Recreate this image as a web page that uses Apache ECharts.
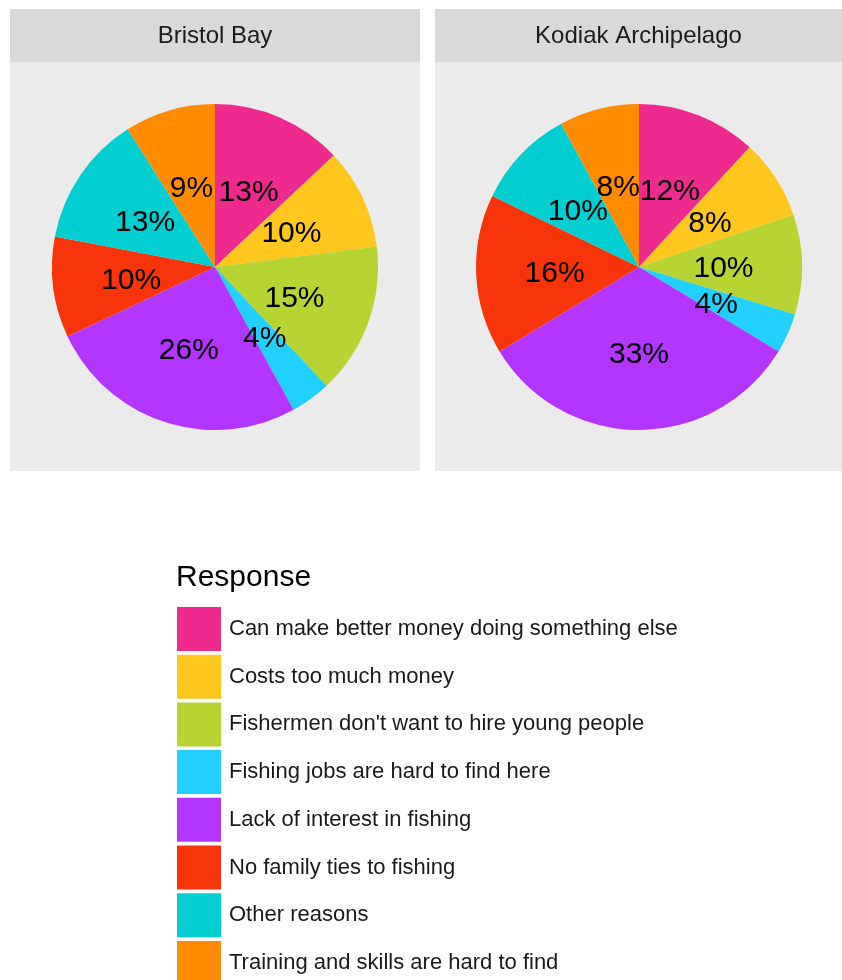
<!DOCTYPE html>
<html>
<head>
<meta charset="utf-8">
<style>
  html, body { margin: 0; padding: 0; background: #ffffff; }
  #chart { width: 842px; height: 980px; }
</style>
<script src="https://cdn.jsdelivr.net/npm/echarts@6/dist/echarts.min.js"></script>
</head>
<body>
<div id="chart"></div>
<script>
// Reasons young people give for not entering commercial fishing, by region
const responses = [
  'Can make better money doing something else',
  'Costs too much money',
  "Fishermen don't want to hire young people",
  'Fishing jobs are hard to find here',
  'Lack of interest in fishing',
  'No family ties to fishing',
  'Other reasons',
  'Training and skills are hard to find'
];
const regions = ['Bristol Bay', 'Kodiak Archipelago'];
const bristolBay = [13, 10, 15, 4, 26, 10, 13, 9];
const kodiak = [12, 8, 10, 4, 33, 16, 10, 8];
const palette = ['#EE2A8E', '#FFC61E', '#B8D433', '#22D0FF', '#B236FF', '#F7340A', '#00CED1', '#FF8C00'];

const FONT = '"Liberation Sans", Arial, Helvetica, sans-serif';

// facet panels: strip on top, grey plotting area below
const panels = [
  { x: 10, w: 410 },
  { x: 435, w: 407 }
];
const graphics = [];
panels.forEach((p, i) => {
  graphics.push({
    type: 'rect', silent: true, z: -10,
    shape: { x: p.x, y: 9, width: p.w, height: 53 },
    style: { fill: '#D9D9D9' }
  });
  graphics.push({
    type: 'rect', silent: true, z: -10,
    shape: { x: p.x, y: 62, width: p.w, height: 409 },
    style: { fill: '#EBEBEB' }
  });
  graphics.push({
    type: 'text', silent: true, z: 5,
    x: p.x + p.w / 2, y: 36,
    style: {
      text: regions[i], fill: '#1A1A1A', font: '24px ' + FONT,
      align: 'center', verticalAlign: 'middle'
    }
  });
});
graphics.push({
  type: 'text', silent: true,
  x: 176, y: 578,
  style: {
    text: 'Response', fill: '#000000', font: '30px ' + FONT,
    align: 'left', verticalAlign: 'middle'
  }
});

function pieSeries(values, center) {
  return {
    type: 'pie',
    center: center,
    radius: [0, 163],
    startAngle: 90,
    clockwise: true,
    avoidLabelOverlap: false,
    animation: false,
    silent: true,
    itemStyle: { borderWidth: 0 },
    label: {
      show: true,
      position: 'inside',
      formatter: p => p.value + '%',
      color: '#000000',
      fontSize: 30,
      fontFamily: FONT,
      offset: [0, 3]
    },
    labelLine: { show: false },
    labelLayout: { hideOverlap: false },
    emphasis: { disabled: true },
    data: responses.map((name, k) => ({
      name: name,
      value: values[k],
      itemStyle: { color: palette[k] }
    }))
  };
}

const chart = echarts.init(document.getElementById('chart'), null, { renderer: 'canvas' });
chart.setOption({
  backgroundColor: '#ffffff',
  animation: false,
  graphic: graphics,
  legend: {
    orient: 'vertical',
    left: 177,
    top: 607,
    height: 400,
    padding: 0,
    itemWidth: 44,
    itemHeight: 44,
    itemGap: 3.7,
    icon: 'rect',
    selectedMode: false,
    data: responses,
    textStyle: {
      color: '#1A1A1A',
      fontSize: 22,
      fontFamily: FONT,
      padding: [0, 0, 0, 3]
    }
  },
  series: [
    pieSeries(bristolBay, [215, 267]),
    pieSeries(kodiak, [639, 267])
  ]
});
</script>
</body>
</html>
